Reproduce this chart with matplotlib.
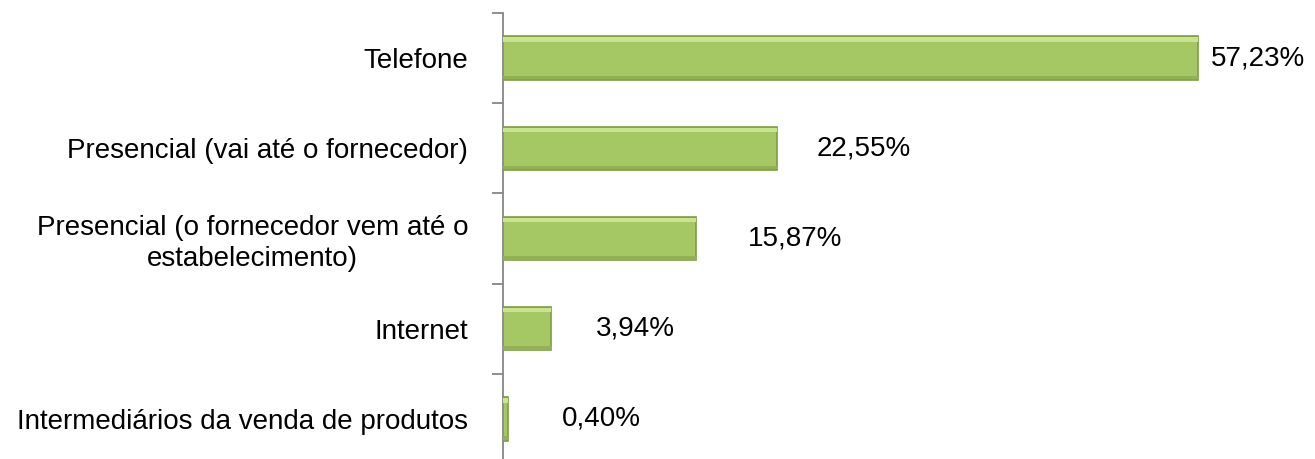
import matplotlib.pyplot as plt

plt.rcParams['font.family'] = ['Liberation Sans', 'DejaVu Sans']

categorias = ['Telefone',
              'Presencial (vai até o fornecedor)',
              'Presencial (o fornecedor vem até o\nestabelecimento)',
              'Internet',
              'Intermediários da venda de produtos']
valores = [57.23, 22.55, 15.87, 3.94, 0.40]
rotulos = ['57,23%', '22,55%', '15,87%', '3,94%', '0,40%']

# distancia do rotulo ao fim da barra (px), como no original
gap_px = [13, 40, 52, 45, 54]

fig = plt.figure(figsize=(13.15, 4.59), dpi=100)
ax = fig.add_axes([503 / 1315, 1 - 464 / 459, 801 / 1315, 451 / 459])

y = list(range(len(categorias)))
ax.barh(y, valores, height=0.48, color='#A6C864', edgecolor='#7E9C42',
        linewidth=1.2, zorder=3)
# realce claro no topo e sombra embaixo (efeito bisel)
ax.barh([i - 0.205 for i in y], valores, height=0.05, color='#C8E48E',
        linewidth=0, zorder=4)
ax.barh([i + 0.215 for i in y], valores, height=0.04, color='#92B152',
        linewidth=0, zorder=4)

for i, (v, txt) in enumerate(zip(valores, rotulos)):
    ax.annotate(txt, (v, i), xytext=(gap_px[i] * 0.72, 0),
                textcoords='offset points', ha='left', va='center',
                fontsize=20, color='black')

ax.set_xlim(0, 66)
ax.set_ylim(len(categorias) - 0.5, -0.5)
ax.set_yticks([i + 0.5 for i in range(-1, len(categorias))], minor=False)
ax.set_yticklabels([])
ax.set_yticks(y, minor=True)
ax.set_yticklabels(categorias, minor=True, fontsize=20, ha='right',
                   multialignment='center')
ax.tick_params(axis='y', which='minor', length=0, pad=25)
ax.tick_params(axis='y', which='major', length=8, width=1.3, color='#868686')

ax.set_xticks([])
for s in ['top', 'right', 'bottom']:
    ax.spines[s].set_visible(False)
ax.spines['left'].set_color('#868686')
ax.spines['left'].set_linewidth(1.3)

fig.savefig('out.png', dpi=100)
